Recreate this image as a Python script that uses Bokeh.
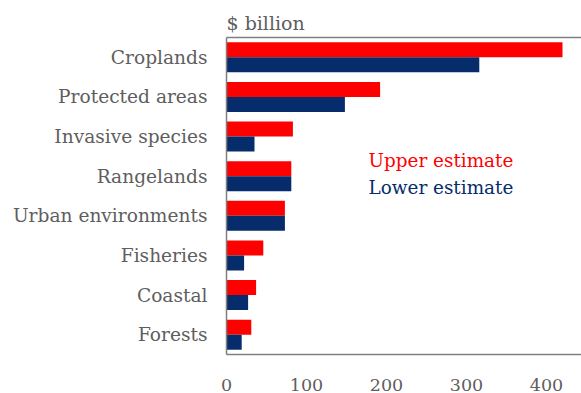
from bokeh.plotting import figure
from bokeh.models import (ColumnDataSource, FactorRange, Range1d, LinearAxis,
                          CategoricalAxis, FixedTicker, Label, Title)
from bokeh.transform import dodge
from bokeh.embed import file_html
from bokeh.resources import INLINE

# Annual value by land/ecosystem category, $ billion
categories = ["Croplands", "Protected areas", "Invasive species", "Rangelands",
              "Urban environments", "Fisheries", "Coastal", "Forests"]
upper_estimate = [420, 192, 83, 81, 73, 46, 37, 31]
lower_estimate = [316, 148, 35, 81, 73, 22, 27, 19]
x_ticks = [0, 100, 200, 300, 400]

RED = "#FF0000"
NAVY = "#062C6B"
GREY = "#5E5E5E"
FRAME = "#7F7F7F"
FONT = "DejaVu Serif"

source = ColumnDataSource(dict(cat=categories, upper=upper_estimate,
                               lower=lower_estimate))

p = figure(width=581, height=393, output_backend="svg", toolbar_location=None,
           y_range=FactorRange(factors=categories[::-1], range_padding=0),
           x_range=Range1d(0, 443.75),
           min_border_left=226, min_border_right=0,
           min_border_top=37, min_border_bottom=36,
           x_axis_location=None, y_axis_location=None)
p.title = None
p.outline_line_color = None
p.grid.visible = False
p.background_fill_color = "white"
p.border_fill_color = "white"

p.hbar(y=dodge("cat", 0.19, range=p.y_range), right="upper", left=0,
       height=0.38, source=source, fill_color=RED, line_color=None)
p.hbar(y=dodge("cat", -0.19, range=p.y_range), right="lower", left=0,
       height=0.38, source=source, fill_color=NAVY, line_color=None)

# Category axis on the left
yaxis = CategoricalAxis(axis_line_color=FRAME, axis_line_width=1.5,
                        major_tick_line_color=None, minor_tick_line_color=None,
                        major_label_standoff=13,
                        major_label_text_font=FONT,
                        major_label_text_font_size="18.6px",
                        major_label_text_color=GREY)
p.add_layout(yaxis, "left")

# Value axis at the bottom
xaxis = LinearAxis(ticker=FixedTicker(ticks=x_ticks),
                   axis_line_color=FRAME, axis_line_width=1.5,
                   major_tick_line_color=None, minor_tick_line_color=None,
                   major_label_standoff=18,
                   major_label_text_font=FONT,
                   major_label_text_font_size="17.5px",
                   major_label_text_color=GREY)
p.add_layout(xaxis, "below")

# Top edge of the frame
top_axis = LinearAxis(ticker=FixedTicker(ticks=[]),
                      axis_line_color=FRAME, axis_line_width=1.5,
                      major_tick_line_color=None, minor_tick_line_color=None,
                      major_label_text_font_size="0px")
p.add_layout(top_axis, "above")

p.add_layout(Title(text="$ billion", align="left", text_font=FONT,
                   text_font_size="19px", text_font_style="normal",
                   text_color=GREY, offset=0, standoff=7), "above")

p.add_layout(Label(x=142, y=194, x_units="screen", y_units="screen",
                   text="Upper estimate", text_font=FONT,
                   text_font_size="18.4px", text_color=RED,
                   text_baseline="alphabetic"))
p.add_layout(Label(x=142, y=167, x_units="screen", y_units="screen",
                   text="Lower estimate", text_font=FONT,
                   text_font_size="18.4px", text_color=NAVY,
                   text_baseline="alphabetic"))

open("out.html", "w").write(file_html(p, INLINE))
